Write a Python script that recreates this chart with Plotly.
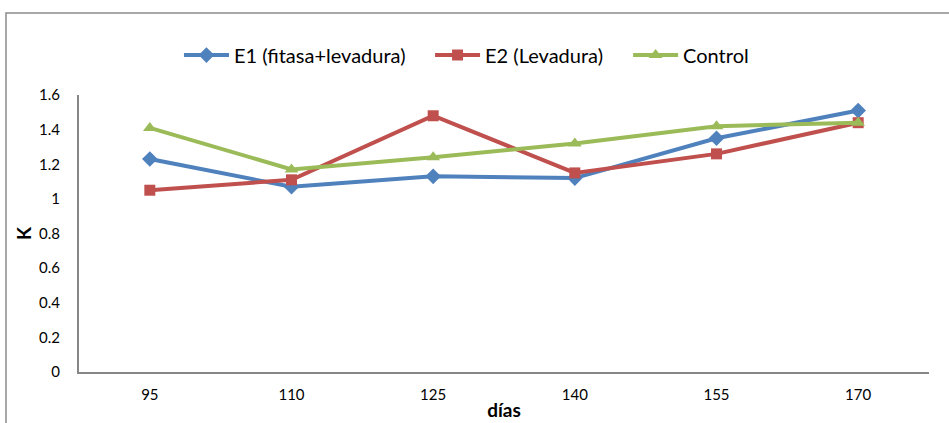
import plotly.graph_objects as go

dias = ["95", "110", "125", "140", "155", "170"]
e1_fitasa_levadura = [1.23, 1.07, 1.13, 1.12, 1.35, 1.51]
e2_levadura = [1.05, 1.11, 1.48, 1.15, 1.26, 1.44]
control = [1.41, 1.17, 1.24, 1.32, 1.42, 1.44]
y_ticks = [0, 0.2, 0.4, 0.6, 0.8, 1, 1.2, 1.4, 1.6]
y_tick_text = ["0", "0.2", "0.4", "0.6", "0.8", "1", "1.2", "1.4", "1.6"]

FONT = "Lato"

fig = go.Figure()
series = [
    ("E1 (fitasa+levadura)", e1_fitasa_levadura, "#4F81BD", "diamond", 12, "legend", 0.1176),
    ("E2 (Levadura)", e2_levadura, "#C0504D", "square", 11, "legend2", 0.413),
    ("Control", control, "#9BBB59", "triangle-up", 12, "legend3", 0.646),
]
legend_common = dict(
    orientation="h", y=1.144, yanchor="middle",
    font=dict(family=FONT, size=20, color="#000000"),
    itemwidth=45, bgcolor="rgba(0,0,0,0)",
)
layout_legends = {}
for name, vals, color, sym, size, lg, lx in series:
    fig.add_trace(go.Scatter(
        x=dias, y=vals, name=name, mode="lines+markers",
        line=dict(color=color, width=4),
        marker=dict(symbol=sym, size=size, color=color),
        legend=lg,
    ))
    layout_legends[lg] = dict(legend_common, x=lx, xanchor="left")

fig.update_layout(
    width=949, height=423,
    margin=dict(l=79, r=20, t=95, b=51, autoexpand=False),
    paper_bgcolor="white", plot_bgcolor="white",
    font=dict(family=FONT, size=15, color="#000000"),
    showlegend=True,
    xaxis=dict(
        type="category", range=[-0.5, 5.5], automargin=False,
        showline=True, linecolor="#868686", linewidth=2,
        showgrid=False, zeroline=False, ticks="",
        ticklabelstandoff=8,
        tickfont=dict(family=FONT, size=15),
        title=dict(text="<b>días</b>", font=dict(family=FONT, size=19), standoff=2),
    ),
    yaxis=dict(
        range=[0, 1.6], tickvals=y_ticks, ticktext=y_tick_text, automargin=False,
        showline=True, linecolor="#868686", linewidth=2,
        showgrid=False, zeroline=False, ticks="",
        ticklabelstandoff=14,
        tickfont=dict(family=FONT, size=15),
        title=dict(text="<b>K</b>", font=dict(family=FONT, size=19), standoff=2),
    ),
    shapes=[dict(
        type="rect", xref="paper", yref="paper",
        x0=-0.0859, x1=1.2, y0=-0.5, y1=1.296,
        line=dict(color="#8C8C8C", width=1.5), fillcolor="rgba(0,0,0,0)",
        layer="below",
    )],
    **layout_legends,
)

fig.write_html("out.html")
